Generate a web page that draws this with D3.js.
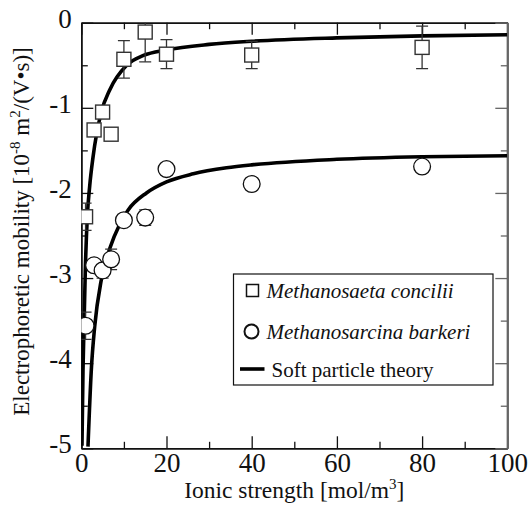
<!DOCTYPE html>
<html><head><meta charset="utf-8">
<script src="https://cdn.jsdelivr.net/npm/d3@7"></script>
<style>
body{margin:0;background:#fff}
svg{display:block}
text{font-family:"Liberation Serif","Times New Roman",serif;fill:#111}
</style>
</head><body>
<svg id="chart" width="529" height="506"></svg>
<script>
// ---- data ----
const ionicTicks = [0, 20, 40, 60, 80, 100];
const ionicMinor = [10, 30, 50, 70, 90];
const mobilityTicks = [0, -1, -2, -3, -4, -5];
const mobilityMinor = [-0.5, -1.5, -2.5, -3.5, -4.5];

// Methanosaeta concilii (squares)
const conciliiX   = [1, 3, 5, 7, 10, 15, 20, 40, 80];
const conciliiY   = [-2.28, -1.26, -1.05, -1.31, -0.43, -0.11, -0.37, -0.38, -0.29];
const conciliiErr = [0.16, 0, 0, 0, 0.22, 0.35, 0.17, 0.16, 0.25];

// Methanosarcina barkeri (circles)
const barkeriX   = [1, 3, 5, 7, 10, 15, 20, 40, 80];
const barkeriY   = [-3.56, -2.85, -2.91, -2.78, -2.32, -2.29, -1.72, -1.895, -1.69];
const barkeriErr = [0.16, 0, 0.09, 0.12, 0, 0.09, 0, 0, 0];

// Soft particle theory curves
const theoryUpperX = [0.16, 0.40, 0.63, 0.94, 1.41, 1.97, 2.75, 4.69, 6.67, 10.66, 14.6, 20, 30, 40, 60, 80, 100];
const theoryUpperY = [-4.97, -4.08, -3.58, -2.91, -2.28, -1.92, -1.58, -1.05, -0.79, -0.50, -0.385, -0.32, -0.255, -0.218, -0.178, -0.155, -0.141];
const theoryLowerX = [1.57, 2.35, 3.14, 4.7, 6.7, 9, 11, 15.3, 20, 26.3, 34.1, 40, 60, 80, 100];
const theoryLowerY = [-4.98, -4.08, -3.57, -3.02, -2.65, -2.37, -2.20, -2.00, -1.87, -1.775, -1.705, -1.67, -1.605, -1.575, -1.563];

const legendLabels = ["Methanosaeta concilii", "Methanosarcina barkeri", "Soft particle theory"];

// ---- layout ----
const SERIF = '"Liberation Serif","Times New Roman",serif';
const L = 81.3, R = 507.3, T = 22.7, B = 448.3;
const svg = d3.select("#chart");
const x = d3.scaleLinear().domain([0, 100]).range([L, R]);
const y = d3.scaleLinear().domain([-5, 0]).range([B, T]);

svg.append("defs").append("clipPath").attr("id", "plotclip")
  .append("rect").attr("x", L).attr("y", T).attr("width", R - L).attr("height", B - T);

function styleAxis(g, color, w) {
  g.attr("font-family", null);
  g.selectAll("path.domain").attr("stroke", color).attr("stroke-width", w);
  g.selectAll(".tick line").attr("stroke", color).attr("stroke-width", 1.3);
}
const fontSize = 27;

// bottom
const gb = svg.append("g").attr("transform", `translate(0,${B})`)
  .call(d3.axisBottom(x).tickValues(ionicTicks).tickSizeInner(-12).tickSizeOuter(0).tickPadding(5).tickFormat(d => String(d)));
styleAxis(gb, "#111", 1.5);
gb.selectAll(".tick text").style("font-family", SERIF).style("font-size", fontSize + "px").attr("fill", "#111").attr("dy", "0.71em");
svg.append("g").attr("transform", `translate(0,${B})`)
  .call(d3.axisBottom(x).tickValues(ionicMinor).tickSizeInner(-6.5).tickSizeOuter(0).tickFormat(""))
  .call(g => styleAxis(g, "#111", 1.5));

// top
svg.append("g").attr("transform", `translate(0,${T})`)
  .call(d3.axisTop(x).tickValues(ionicTicks).tickSizeInner(-12).tickSizeOuter(0).tickFormat(""))
  .call(g => styleAxis(g, "#111", 1.5));
svg.append("g").attr("transform", `translate(0,${T})`)
  .call(d3.axisTop(x).tickValues(ionicMinor).tickSizeInner(-6.5).tickSizeOuter(0).tickFormat(""))
  .call(g => styleAxis(g, "#111", 1.5));

// left
const gl = svg.append("g").attr("transform", `translate(${L},0)`)
  .call(d3.axisLeft(y).tickValues(mobilityTicks).tickSizeInner(-12).tickSizeOuter(0).tickPadding(9.5).tickFormat(d => String(d)));
styleAxis(gl, "#111", 1.5);
gl.selectAll(".tick text").style("font-family", SERIF).style("font-size", fontSize + "px").attr("fill", "#111").attr("dy", "0.17em");
svg.append("g").attr("transform", `translate(${L},0)`)
  .call(d3.axisLeft(y).tickValues(mobilityMinor).tickSizeInner(-6.5).tickSizeOuter(0).tickFormat(""))
  .call(g => styleAxis(g, "#111", 1.5));

// right
svg.append("g").attr("transform", `translate(${R},0)`)
  .call(d3.axisRight(y).tickValues(mobilityTicks).tickSizeInner(-12).tickSizeOuter(0).tickFormat(""))
  .call(g => styleAxis(g, "#666", 2));
svg.append("g").attr("transform", `translate(${R},0)`)
  .call(d3.axisRight(y).tickValues(mobilityMinor).tickSizeInner(-6.5).tickSizeOuter(0).tickFormat(""))
  .call(g => styleAxis(g, "#666", 2));

// curves
const plot = svg.append("g").attr("clip-path", "url(#plotclip)");
const line = d3.line().x(d => x(d[0])).y(d => y(d[1])).curve(d3.curveMonotoneX);
[[theoryUpperX, theoryUpperY], [theoryLowerX, theoryLowerY]].forEach(([xs, ys]) => {
  plot.append("path").datum(xs.map((v, i) => [v, ys[i]]))
    .attr("d", line).attr("fill", "none").attr("stroke", "#000").attr("stroke-width", 3.6)
    .attr("stroke-linejoin", "round");
});

// error bars
function errorBars(xs, ys, es, color) {
  const data = xs.map((v, i) => ({x: v, y: ys[i], e: es[i]})).filter(d => d.e > 0);
  const g = plot.append("g").attr("stroke", color).attr("stroke-width", 1.3);
  data.forEach(d => {
    g.append("line").attr("x1", x(d.x)).attr("x2", x(d.x)).attr("y1", y(d.y - d.e)).attr("y2", y(d.y + d.e));
    g.append("line").attr("x1", x(d.x) - 6).attr("x2", x(d.x) + 6).attr("y1", y(d.y - d.e)).attr("y2", y(d.y - d.e));
    g.append("line").attr("x1", x(d.x) - 6).attr("x2", x(d.x) + 6).attr("y1", y(d.y + d.e)).attr("y2", y(d.y + d.e));
  });
}
errorBars(conciliiX, conciliiY, conciliiErr, "#333");
errorBars(barkeriX, barkeriY, barkeriErr, "#333");

// markers
const sq = 14;
plot.append("g").selectAll("rect").data(conciliiX.map((v, i) => [v, conciliiY[i]])).join("rect")
  .attr("x", d => x(d[0]) - sq / 2).attr("y", d => y(d[1]) - sq / 2)
  .attr("width", sq).attr("height", sq)
  .attr("fill", "#fff").attr("stroke", "#333").attr("stroke-width", 1.4);
plot.append("g").selectAll("circle").data(barkeriX.map((v, i) => [v, barkeriY[i]])).join("circle")
  .attr("cx", d => x(d[0])).attr("cy", d => y(d[1])).attr("r", 8.4)
  .attr("fill", "#fff").attr("stroke", "#111").attr("stroke-width", 1.3);

// legend
const lg = svg.append("g");
lg.append("rect").attr("x", 233.5).attr("y", 274).attr("width", 259.5).attr("height", 111)
  .attr("fill", "#fff").attr("stroke", "#111").attr("stroke-width", 1.2);
lg.append("rect").attr("x", 246.5).attr("y", 284.5).attr("width", 12).attr("height", 12)
  .attr("fill", "#fff").attr("stroke", "#111").attr("stroke-width", 1.5);
lg.append("circle").attr("cx", 251.5).attr("cy", 331.5).attr("r", 7)
  .attr("fill", "#fff").attr("stroke", "#111").attr("stroke-width", 2);
lg.append("line").attr("x1", 240).attr("x2", 264.5).attr("y1", 369).attr("y2", 369)
  .attr("stroke", "#000").attr("stroke-width", 3.6);
lg.append("text").attr("x", 266.5).attr("y", 297.5).style("font-size", "21px").style("font-style", "italic").text(legendLabels[0]);
lg.append("text").attr("x", 266.5).attr("y", 338.5).style("font-size", "21px").style("font-style", "italic").text(legendLabels[1]);
lg.append("text").attr("x", 271.5).attr("y", 376.5).style("font-size", "21px").text(legendLabels[2]);

// axis titles
const xt = svg.append("text").attr("x", (L + R) / 2).attr("y", 498).attr("text-anchor", "middle").style("font-size", "23.5px");
xt.append("tspan").text("Ionic strength [mol/m");
xt.append("tspan").style("font-size", "15px").attr("dy", -9).text("3");
xt.append("tspan").attr("dy", 9).text("]");

const yt = svg.append("text").attr("transform", `translate(28.5,${(T + B) / 2 - 4}) rotate(-90)`)
  .attr("text-anchor", "middle").style("font-size", "23px");
yt.append("tspan").text("Electrophoretic mobility [10");
yt.append("tspan").style("font-size", "15px").attr("dy", -9).text("-8");
yt.append("tspan").attr("dy", 9).text(" m");
yt.append("tspan").style("font-size", "15px").attr("dy", -9).text("2");
yt.append("tspan").attr("dy", 9).text("/(V\u2022s)]");
</script>
</body></html>
